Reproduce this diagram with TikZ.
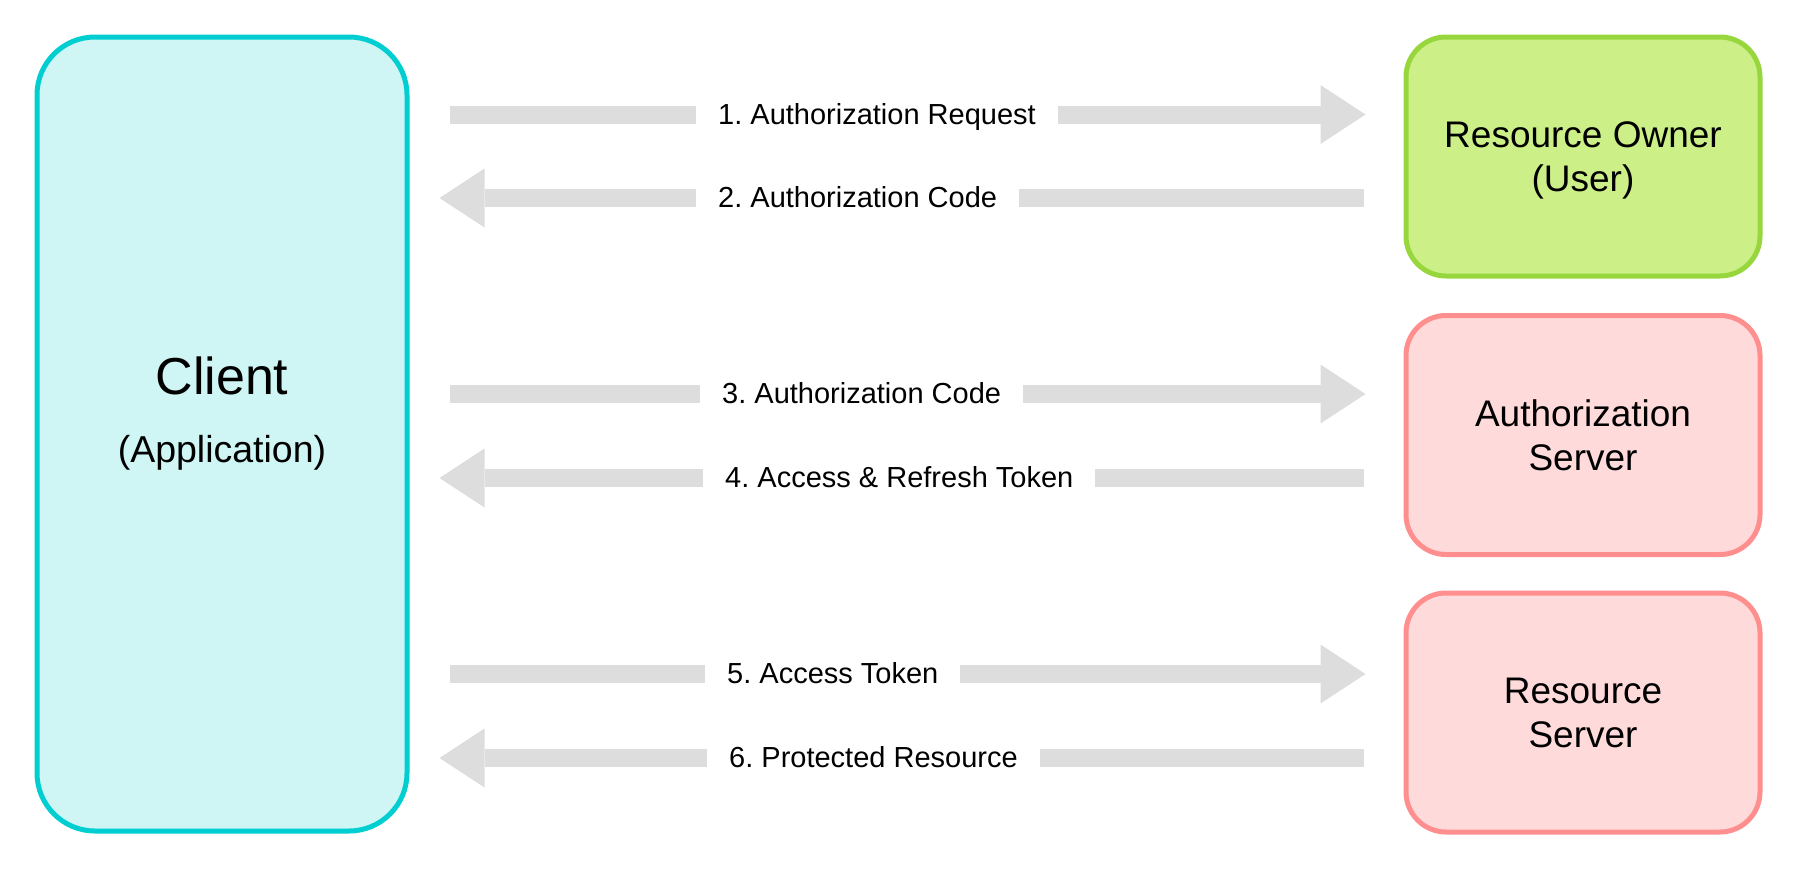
\documentclass[tikz,border=0pt]{standalone}
\usepackage{fontspec}
\setmainfont{Liberation Sans}
\usetikzlibrary{arrows.meta}
\definecolor{clientfill}{RGB}{207,245,244}
\definecolor{clientline}{RGB}{0,206,209}
\definecolor{ownerfill}{RGB}{204,239,135}
\definecolor{ownerline}{RGB}{151,215,61}
\definecolor{serverfill}{RGB}{255,218,218}
\definecolor{serverline}{RGB}{255,143,143}
\definecolor{flowgray}{RGB}{221,221,221}
\frenchspacing

\begin{document}
\begin{tikzpicture}[x=1pt,y=-1pt,
  box/.style={draw,line width=5pt,rounded corners=40pt,minimum width=354pt,minimum height=239pt,align=center,text depth=0pt,font=\fontsize{37}{44}\selectfont},
  serverbox/.style={box,draw=serverline,fill=serverfill},
  flow/.style={draw=flowgray,line width=18pt,-{Triangle[length=45pt,width=59pt,line width=0pt]}},
  toserver/.style={flow,shorten <=40pt,shorten >=38pt},
  toclient/.style={flow,shorten <=40pt,shorten >=30pt},
  flowlabel/.style={fill=white,inner xsep=22pt,inner ysep=4pt,anchor=base west,font=\fontsize{29}{35}\selectfont}]
\useasboundingbox (0,0) rectangle (1796,870);
\node[box,draw=clientline,fill=clientfill,rounded corners=58pt,minimum width=370pt,minimum height=794pt] (client) at (222,434) {};
\node[anchor=base,font=\fontsize{52}{60}\selectfont] (clientname) at (222,394) {Client};
\node[anchor=base,font=\fontsize{37.5}{44}\selectfont] (clientrole) at (222,462) {(Application)};
\node[box,draw=ownerline,fill=ownerfill] (owner) at (1583,156.5) {Resource Owner\\(User)};
\node[serverbox] (authserver) at (1583,435) {Authorization\\Server};
\node[serverbox] (resserver) at (1583,712.5) {Resource\\Server};

\draw[toserver] (client.east |- 0,114.5) -- (owner.west |- 0,114.5);
\draw[toclient] (owner.west |- 0,198) -- (client.east |- 0,198);
\draw[toserver] (client.east |- 0,394) -- (authserver.west |- 0,394);
\draw[toclient] (authserver.west |- 0,478) -- (client.east |- 0,478);
\draw[toserver] (client.east |- 0,674) -- (resserver.west |- 0,674);
\draw[toclient] (resserver.west |- 0,758) -- (client.east |- 0,758);

\node[flowlabel] (req) at (696,124) {1. Authorization Request};
\node[flowlabel] (code) at (696,207.5) {2. Authorization Code};
\node[flowlabel] (codefwd) at (700,403.5) {3. Authorization Code};
\node[flowlabel] (tokens) at (703,487.5) {4. Access \& Refresh Token};
\node[flowlabel] (access) at (705,683.5) {5. Access Token};
\node[flowlabel] (resource) at (707,767.5) {6. Protected Resource};
\end{tikzpicture}
\end{document}
